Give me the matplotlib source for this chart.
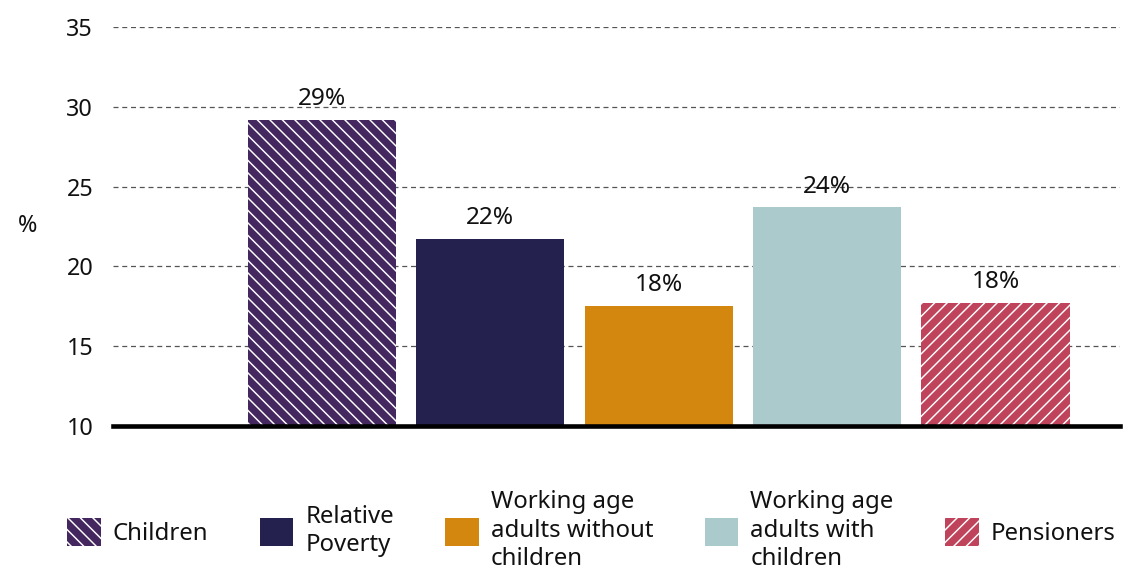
import matplotlib
matplotlib.use("Agg")
import matplotlib.pyplot as plt
from matplotlib.patches import Patch
import numpy as np

# ---------------------------------------------------------------------------
# Data
# ---------------------------------------------------------------------------
groups = [
    "Children",
    "Relative\nPoverty",
    "Working age\nadults without\nchildren",
    "Working age\nadults with\nchildren",
    "Pensioners",
]
shares = [29.2, 21.7, 17.5, 23.7, 17.7]
colors = ["#44275f", "#24214f", "#d4870f", "#aacacc", "#be435b"]
hatches = ["\\\\\\\\", None, None, None, "////"]
y_ticks = [10, 15, 20, 25, 30, 35]

plt.rcParams["font.family"] = ["Noto Sans", "DejaVu Sans"]
plt.rcParams["hatch.linewidth"] = 0.7

fig = plt.figure(figsize=(1124 / 150, 574 / 150), dpi=150)
ax = fig.add_axes([0.1005, 0.258, 0.896, 0.695])

x = np.arange(1, len(shares) + 1)
for xi, val, col, hat in zip(x, shares, colors, hatches):
    ax.bar(xi, val - 10, bottom=10, width=0.88, color=col,
           edgecolor="white" if hat else col, hatch=hat, linewidth=0,
           zorder=2)
    ax.annotate(f"{val:.0f}%", (xi, val), xytext=(0, 4.2),
                textcoords="offset points", ha="center", va="bottom",
                fontsize=11.7, color="#111111")

ax.set_xlim(-0.24, 5.74)
ax.set_ylim(10, 35)
ax.set_yticks(y_ticks)
ax.set_xticks([])
ax.tick_params(axis="y", length=0, pad=9.5, labelsize=11.2,
               labelcolor="#111111")
ax.yaxis.grid(True, linestyle=(0, (4, 3)), color="#555555", linewidth=0.6,
              zorder=0)
ax.set_axisbelow(True)
for side in ("top", "right", "left"):
    ax.spines[side].set_visible(False)
ax.spines["bottom"].set_linewidth(2.2)
ax.spines["bottom"].set_color("black")
ax.spines["bottom"].set_zorder(3)

ax.set_ylabel("%", rotation=0, fontsize=11.2, color="#111111",
              ha="center", va="center")
ax.yaxis.set_label_coords(-0.085, 0.5)

handles = [Patch(facecolor=c, edgecolor="white" if h else c, hatch=h,
                 linewidth=0) for c, h in zip(colors, hatches)]
leg = fig.legend(handles, groups, ncol=5, loc="center",
                 bbox_to_anchor=(0.526, 0.075), frameon=False,
                 fontsize=11.5, handlelength=1.4, handleheight=1.45,
                 handletextpad=0.5, columnspacing=2.15)
for t in leg.get_texts():
    t.set_color("#111111")
    t.set_linespacing(1.25)

fig.savefig("out.png", dpi=150)
